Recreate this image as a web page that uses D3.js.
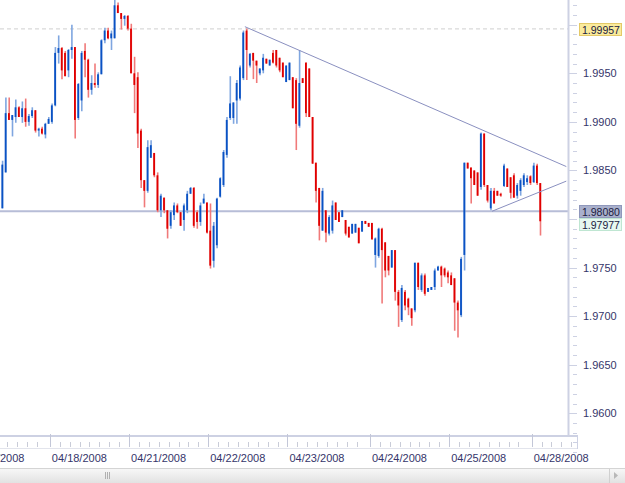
<!DOCTYPE html>
<html>
<head>
<meta charset="utf-8">
<script src="https://cdn.jsdelivr.net/npm/d3@7"></script>
<style>
  body { margin: 0; background: #fff; }
  text { font-family: "Liberation Sans", Arial, sans-serif; }
</style>
</head>
<body>
<script>
// hourly candles, GBP/USD style quotes
var opens = [
  1.9811,1.9848,1.9909,1.9902,1.9905,1.9915,1.9905,1.9914,1.9900,1.9906,
  1.9912,1.9891,1.9893,1.9887,1.9898,1.9900,1.9917,1.9971,1.9976,1.9971,
  1.9953,1.9974,1.9977,1.9904,1.9922,1.9973,1.9964,1.9933,1.9940,1.9938,
  1.9949,1.9984,1.9994,1.9986,1.9986,2.0020,2.0012,2.0006,2.0009,1.9996,
  1.9950,1.9946,1.9891,1.9840,1.9829,1.9863,1.9868,1.9845,1.9809,1.9822,
  1.9809,1.9793,1.9804,1.9814,1.9807,1.9799,1.9809,1.9826,1.9832,1.9807,
  1.9797,1.9816,1.9817,1.9788,1.9757,1.9773,1.9823,1.9835,1.9866,1.9904,
  1.9904,1.9922,1.9924,1.9945,1.9994,1.9958,1.9971,1.9963,1.9950,1.9953,
  1.9965,1.9958,1.9971,1.9974,1.9966,1.9961,1.9941,1.9943,1.9946,1.9943,
  1.9896,1.9945,1.9961,1.9955,1.9905,1.9858,1.9832,1.9788,1.9809,1.9785,
  1.9788,1.9817,1.9807,1.9802,1.9799,1.9792,1.9785,1.9786,1.9791,1.9787,
  1.9798,1.9796,1.9796,1.9763,1.9762,1.9790,1.9776,1.9762,1.9750,1.9768,
  1.9725,1.9696,1.9725,1.9718,1.9708,1.9706,1.9755,1.9727,1.9742,1.9725,
  1.9727,1.9730,1.9747,1.9751,1.9749,1.9745,1.9742,1.9739,1.9714,1.9701,
  1.9763,1.9858,1.9853,1.9850,1.9848,1.9833,1.9888,1.9835,1.9811,1.9829,
  1.9829,1.9826,1.9834,1.9852,1.9843,1.9845,1.9824,1.9829,1.9835,1.9838,
  1.9844,1.9838,1.9855,1.9837
];
var highs = [
  1.9860,1.9925,1.9925,1.9907,1.9923,1.9916,1.9921,1.9924,1.9908,1.9915,
  1.9912,1.9894,1.9895,1.9899,1.9905,1.9919,1.9977,1.9989,1.9977,1.9973,
  1.9975,2.0000,1.9977,1.9940,1.9973,1.9981,1.9965,1.9948,1.9960,1.9951,
  1.9985,1.9997,1.9997,1.9994,2.0026,2.0023,2.0012,2.0010,2.0010,2.0001,
  1.9967,1.9951,1.9893,1.9840,1.9881,1.9881,1.9868,1.9848,1.9826,1.9822,
  1.9809,1.9809,1.9817,1.9816,1.9807,1.9816,1.9829,1.9833,1.9833,1.9809,
  1.9817,1.9826,1.9817,1.9816,1.9797,1.9822,1.9843,1.9871,1.9905,1.9947,
  1.9920,1.9943,1.9958,1.9994,1.9996,1.9971,1.9971,1.9963,1.9955,1.9970,
  1.9965,1.9964,1.9974,1.9974,1.9966,1.9961,1.9958,1.9961,1.9946,1.9945,
  1.9974,1.9945,1.9961,1.9955,1.9905,1.9858,1.9832,1.9832,1.9809,1.9804,
  1.9819,1.9817,1.9807,1.9809,1.9799,1.9792,1.9795,1.9795,1.9791,1.9798,
  1.9798,1.9796,1.9796,1.9781,1.9791,1.9791,1.9776,1.9762,1.9768,1.9768,
  1.9727,1.9732,1.9727,1.9719,1.9708,1.9755,1.9755,1.9744,1.9744,1.9729,
  1.9730,1.9749,1.9752,1.9752,1.9750,1.9747,1.9745,1.9739,1.9716,1.9761,
  1.9858,1.9858,1.9853,1.9850,1.9848,1.9889,1.9888,1.9835,1.9832,1.9832,
  1.9829,1.9827,1.9857,1.9852,1.9843,1.9847,1.9837,1.9842,1.9847,1.9845,
  1.9845,1.9858,1.9857,1.9837
];
var lows = [
  1.9811,1.9848,1.9902,1.9885,1.9899,1.9905,1.9899,1.9895,1.9896,1.9904,
  1.9889,1.9885,1.9887,1.9883,1.9898,1.9898,1.9916,1.9960,1.9944,1.9947,
  1.9946,1.9965,1.9883,1.9902,1.9911,1.9946,1.9925,1.9928,1.9935,1.9935,
  1.9949,1.9981,1.9985,1.9974,1.9986,2.0012,1.9995,1.9999,1.9994,1.9950,
  1.9909,1.9873,1.9832,1.9812,1.9827,1.9863,1.9843,1.9807,1.9802,1.9806,
  1.9780,1.9790,1.9799,1.9806,1.9793,1.9788,1.9806,1.9826,1.9791,1.9790,
  1.9793,1.9816,1.9785,1.9749,1.9750,1.9770,1.9822,1.9833,1.9863,1.9902,
  1.9898,1.9898,1.9922,1.9943,1.9943,1.9956,1.9944,1.9940,1.9948,1.9950,
  1.9960,1.9958,1.9960,1.9956,1.9951,1.9946,1.9941,1.9943,1.9914,1.9871,
  1.9894,1.9940,1.9905,1.9905,1.9857,1.9817,1.9778,1.9788,1.9776,1.9783,
  1.9785,1.9799,1.9797,1.9802,1.9783,1.9781,1.9785,1.9786,1.9775,1.9787,
  1.9795,1.9792,1.9779,1.9750,1.9760,1.9713,1.9740,1.9742,1.9750,1.9716,
  1.9689,1.9694,1.9706,1.9701,1.9690,1.9704,1.9727,1.9725,1.9721,1.9725,
  1.9727,1.9727,1.9747,1.9730,1.9740,1.9734,1.9732,1.9685,1.9678,1.9699,
  1.9747,1.9852,1.9816,1.9835,1.9824,1.9830,1.9833,1.9817,1.9809,1.9816,
  1.9824,1.9823,1.9833,1.9833,1.9821,1.9822,1.9821,1.9824,1.9833,1.9835,
  1.9835,1.9837,1.9835,1.9783
];
var closes = [
  1.9856,1.9909,1.9902,1.9907,1.9915,1.9905,1.9914,1.9900,1.9906,1.9912,
  1.9891,1.9893,1.9888,1.9898,1.9903,1.9917,1.9971,1.9976,1.9953,1.9947,
  1.9974,1.9977,1.9902,1.9939,1.9971,1.9964,1.9933,1.9940,1.9938,1.9949,
  1.9984,1.9994,1.9986,1.9991,2.0020,2.0012,2.0006,2.0009,1.9996,1.9950,
  1.9938,1.9888,1.9840,1.9829,1.9874,1.9876,1.9845,1.9809,1.9824,1.9809,
  1.9790,1.9807,1.9814,1.9807,1.9793,1.9814,1.9826,1.9832,1.9793,1.9797,
  1.9814,1.9821,1.9786,1.9752,1.9793,1.9821,1.9842,1.9869,1.9902,1.9919,
  1.9920,1.9940,1.9956,1.9992,1.9974,1.9970,1.9963,1.9958,1.9955,1.9966,
  1.9960,1.9964,1.9961,1.9958,1.9953,1.9946,1.9958,1.9961,1.9914,1.9898,
  1.9940,1.9940,1.9909,1.9905,1.9857,1.9829,1.9793,1.9829,1.9786,1.9802,
  1.9814,1.9799,1.9797,1.9809,1.9785,1.9781,1.9795,1.9795,1.9775,1.9798,
  1.9795,1.9792,1.9779,1.9780,1.9790,1.9768,1.9747,1.9747,1.9768,1.9725,
  1.9711,1.9729,1.9711,1.9709,1.9698,1.9755,1.9730,1.9742,1.9723,1.9729,
  1.9730,1.9747,1.9751,1.9742,1.9742,1.9740,1.9732,1.9714,1.9706,1.9759,
  1.9858,1.9852,1.9842,1.9835,1.9824,1.9888,1.9835,1.9819,1.9829,1.9816,
  1.9824,1.9824,1.9855,1.9833,1.9827,1.9822,1.9835,1.9840,1.9845,1.9842,
  1.9837,1.9855,1.9837,1.97977
];

// day labels and the candle each day starts on
var dayLabels = ["04/17/2008", "04/18/2008", "04/21/2008", "04/22/2008",
                 "04/23/2008", "04/24/2008", "04/25/2008", "04/28/2008"];
var dayStart = [-10, 15, 39, 63, 87, 112, 136, 161];

var priceTicks = [1.9600, 1.9650, 1.9700, 1.9750, 1.9800, 1.9850, 1.9900, 1.9950, 2.0000];

// markers on the price axis
var highMark = 1.99957;
var lineMark = 1.98080;
var lastMark = 1.97977;

// drawn trend lines: [candle index, price]
var upperTrend = [[73.6, 1.9998], [171, 1.9854]];
var lowerTrend = [[148.5, 1.9808], [171, 1.9839]];

var w = 625, h = 483;
var plotRight = 568, plotBottom = 436;

var svg = d3.select("body").append("svg")
    .attr("width", w)
    .attr("height", h);

var x = d3.scaleLinear().domain([0, opens.length - 1]).range([2, 539.9]);
var y = d3.scaleLinear().domain([1.9600, 1.9950]).range([413.3, 73.3]);

// clip for plot area
svg.append("clipPath").attr("id", "plot")
  .append("rect").attr("x", 0).attr("y", 0).attr("width", plotRight).attr("height", plotBottom);

var plot = svg.append("g").attr("clip-path", "url(#plot)");

// high line (dashed)
plot.append("line")
    .attr("x1", 0).attr("x2", plotRight)
    .attr("y1", y(highMark)).attr("y2", y(highMark))
    .attr("stroke", "#cfcfcf").attr("stroke-dasharray", "4,3");

// horizontal level line
plot.append("line")
    .attr("x1", 0).attr("x2", plotRight)
    .attr("y1", y(lineMark)).attr("y2", y(lineMark))
    .attr("stroke", "#b7bdd7").attr("stroke-width", 2);

var candles = d3.range(opens.length).map(function(i) {
  return {i: i, o: opens[i], h: highs[i], l: lows[i], c: closes[i]};
});

function col(d, light) {
  if (d.c >= d.o) return light ? "#7fa6e0" : "#0a52c4";
  return light ? "#f07a7a" : "#e00000";
}

plot.selectAll(".wick")
    .data(candles)
    .enter()
    .append("line")
    .attr("class", "wick")
    .attr("x1", function(d) { return x(d.i) + 0.6; })
    .attr("x2", function(d) { return x(d.i) + 0.6; })
    .attr("y1", function(d) { return y(d.h); })
    .attr("y2", function(d) { return y(d.l); })
    .attr("stroke", function(d) { return col(d, true); })
    .attr("stroke-width", 1.6);

plot.selectAll(".body")
    .data(candles)
    .enter()
    .append("rect")
    .attr("class", "body")
    .attr("x", function(d) { return x(d.i) - 0.6; })
    .attr("width", 1.8)
    .attr("y", function(d) { return y(Math.max(d.o, d.c)); })
    .attr("height", function(d) { return Math.max(1.5, Math.abs(y(d.o) - y(d.c))); })
    .attr("fill", function(d) { return col(d, false); });

// trend lines
[upperTrend, lowerTrend].forEach(function(t) {
  plot.append("line")
      .attr("x1", x(t[0][0])).attr("y1", y(t[0][1]))
      .attr("x2", x(t[1][0])).attr("y2", y(t[1][1]))
      .attr("stroke", "#8a90c0").attr("stroke-width", 1);
});

// price axis
var axisCol = "#cdd1e3";
svg.append("line")
    .attr("x1", plotRight + 0.5).attr("x2", plotRight + 0.5)
    .attr("y1", 0).attr("y2", plotBottom)
    .attr("stroke", axisCol).attr("stroke-width", 2);

var minor = d3.range(19560, 20040, 10).map(function(v) { return v / 10000; });
svg.selectAll(".ymin")
    .data(minor)
    .enter()
    .append("line")
    .attr("x1", function(d) { return Math.round(d * 10000) % 50 == 0 ? plotRight : plotRight + 5; })
    .attr("x2", plotRight + 9)
    .attr("y1", function(d) { return Math.round(y(d)) + 0.5; })
    .attr("y2", function(d) { return Math.round(y(d)) + 0.5; })
    .attr("stroke", axisCol);

// tick labels that sit under a marker box are hidden, as in the original
var marks = [highMark, lineMark, lastMark];
svg.selectAll(".ylab")
    .data(priceTicks.filter(function(t) {
      return marks.every(function(m) { return Math.abs(y(t) - y(m)) > 9; });
    }))
    .enter()
    .append("text")
    .attr("x", 583)
    .attr("y", function(d) { return y(d) + 4; })
    .attr("font-size", 11)
    .attr("fill", "#35356a")
    .text(d3.format(".4f"));

// marker boxes; a box that would run into the one above is pushed down
function marker(v, fill, stroke, minTop) {
  var top = Math.max(Math.round(y(v)) - 6, minTop || 0);
  var g = svg.append("g");
  g.append("rect")
      .attr("x", 579.5).attr("y", top + 0.5)
      .attr("width", 42).attr("height", 12)
      .attr("fill", fill).attr("stroke", stroke);
  g.append("text")
      .attr("x", 582).attr("y", top + 10.5)
      .attr("font-size", 10.5)
      .attr("fill", "#202040")
      .text(d3.format(".5f")(v));
  return top + 13;
}
marker(highMark, "#faeb9c", "#e4c968");
var below = marker(lineMark, "#a9b0cc", "#9098bc");
marker(lastMark, "#e6f8f0", "#bfe6d2", below);

// time axis
svg.append("line")
    .attr("x1", 0).attr("x2", 578)
    .attr("y1", plotBottom).attr("y2", plotBottom)
    .attr("stroke", axisCol).attr("stroke-width", 2);
svg.append("line")
    .attr("x1", 0).attr("x2", 578)
    .attr("y1", 448.5).attr("y2", 448.5)
    .attr("stroke", "#e2e4ec");
svg.append("line")
    .attr("x1", 577.5).attr("x2", 577.5)
    .attr("y1", plotBottom).attr("y2", 449)
    .attr("stroke", axisCol);

var minorX = [];
dayStart.forEach(function(s, k) {
  var end = k + 1 < dayStart.length ? dayStart[k + 1] : 176;
  for (var j = s + 3; j < end - 1; j += 3) minorX.push(j - 0.5);
});
svg.selectAll(".xmin")
    .data(minorX)
    .enter()
    .append("line")
    .attr("x1", function(d) { return Math.round(x(d)) + 0.5; })
    .attr("x2", function(d) { return Math.round(x(d)) + 0.5; })
    .attr("y1", 442).attr("y2", 447)
    .attr("stroke", "#c9ccd8");

svg.selectAll(".xmaj")
    .data(dayStart)
    .enter()
    .append("line")
    .attr("x1", function(d) { return Math.round(x(d - 0.5)) + 0.5; })
    .attr("x2", function(d) { return Math.round(x(d - 0.5)) + 0.5; })
    .attr("y1", 434).attr("y2", 447)
    .attr("stroke", "#c3c7d8");

svg.selectAll(".xlab")
    .data(dayStart)
    .enter()
    .append("text")
    .attr("x", function(d) { return x(d - 0.5) + 2; })
    .attr("y", 462)
    .attr("font-size", 11)
    .attr("fill", "#35356a")
    .text(function(d, i) { return dayLabels[i]; });

// scroll bar
var grad = svg.append("defs").append("linearGradient")
    .attr("id", "sb").attr("x1", 0).attr("x2", 0).attr("y1", 0).attr("y2", 1);
grad.append("stop").attr("offset", "0%").attr("stop-color", "#f7f7f7");
grad.append("stop").attr("offset", "100%").attr("stop-color", "#e2e2e2");
svg.append("rect")
    .attr("x", 0).attr("y", 469).attr("width", w).attr("height", 14)
    .attr("fill", "url(#sb)");
svg.append("line")
    .attr("x1", 0).attr("x2", w).attr("y1", 468.5).attr("y2", 468.5)
    .attr("stroke", "#d4d4d4");
[105, 107, 109].forEach(function(gx) {
  svg.append("line")
      .attr("x1", gx + 0.5).attr("x2", gx + 0.5)
      .attr("y1", 472).attr("y2", 479)
      .attr("stroke", "#b0b0b0");
});
svg.append("line")
    .attr("x1", 609.5).attr("x2", 609.5).attr("y1", 469).attr("y2", 483)
    .attr("stroke", "#d0d0d0");
svg.append("path")
    .attr("d", "M614,472 L618,475.5 L614,479 Z")
    .attr("fill", "#b8b8b8");
</script>
</body>
</html>
